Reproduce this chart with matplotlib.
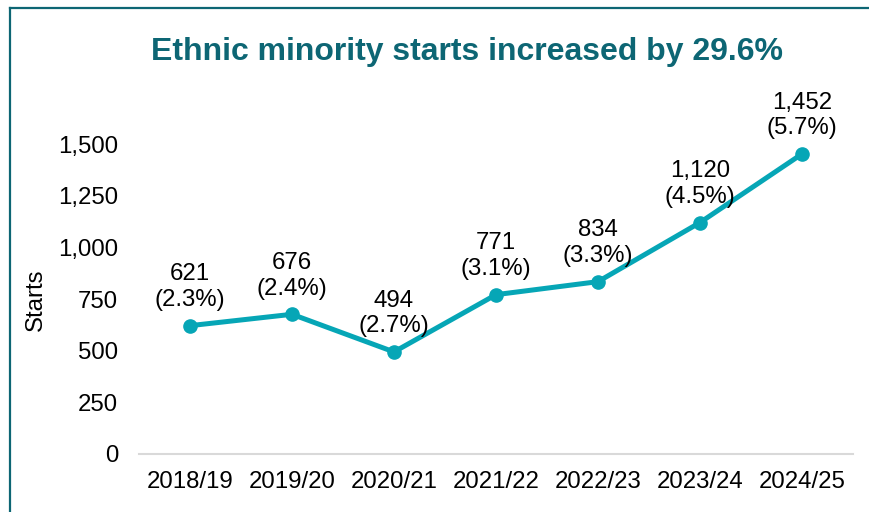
import matplotlib
matplotlib.use("Agg")
import matplotlib.pyplot as plt
from matplotlib.lines import Line2D

plt.rcParams["font.family"] = ["Liberation Sans", "DejaVu Sans"]

# ===========================================

years = ["2018/19", "2019/20", "2020/21", "2021/22", "2022/23", "2023/24", "2024/25"]
starts = [621, 676, 494, 771, 834, 1120, 1452]
shares = [2.3, 2.4, 2.7, 3.1, 3.3, 4.5, 5.7]

title = "Ethnic minority starts increased by 29.6%"

LINE_COL = "#06A6B6"
DARK_COL = "#0D6674"
FS = 17.3

# ===========================================

fig = plt.figure(figsize=(8.7, 5.12), dpi=100)
ax = fig.add_axes([139/870, 1 - 454/512, (853 - 139)/870, (454 - 144)/512])

xs = list(range(len(years)))
ax.plot(xs, starts, color=LINE_COL, lw=3.6, marker="o", ms=9.5,
        solid_capstyle="round", clip_on=False, zorder=3)

for x, v, p in zip(xs, starts, shares):
  ax.annotate(f"{v:,}\n({p}%)", (x, v), xytext=(0, 10.5), textcoords="offset points",
              ha="center", va="bottom", fontsize=FS, linespacing=1.22,
              annotation_clip=False)

ax.set_xlim(-0.5, len(years) - 0.5)
ax.set_ylim(0, 1500)
ax.set_yticks([0, 250, 500, 750, 1000, 1250, 1500])
ax.set_yticklabels([f"{t:,}" for t in ax.get_yticks()])
ax.set_xticks(xs)
ax.set_xticklabels(years)
ax.tick_params(axis="both", length=0, labelsize=FS)
ax.tick_params(axis="y", pad=15)
ax.tick_params(axis="x", pad=12)

for s in ["top", "right", "left"]:
  ax.spines[s].set_visible(False)
ax.spines["bottom"].set_color("#D9D9D9")
ax.spines["bottom"].set_linewidth(1.5)

fig.text(36/870, 1 - 300/512, "Starts", rotation=90, ha="center", va="center", fontsize=FS)
fig.text(467/870, 1 - 52/512, title, ha="center", va="center", fontsize=23,
         fontweight="bold", color=DARK_COL)

# frame around the chart (left and top edges)
fig.add_artist(Line2D([10.5/870, 10.5/870], [0, 1 - 7.5/512], color=DARK_COL, lw=1.6))
fig.add_artist(Line2D([10.5/870, 1], [1 - 7.5/512, 1 - 7.5/512], color=DARK_COL, lw=1.6))

fig.savefig("out.png", dpi=100)
